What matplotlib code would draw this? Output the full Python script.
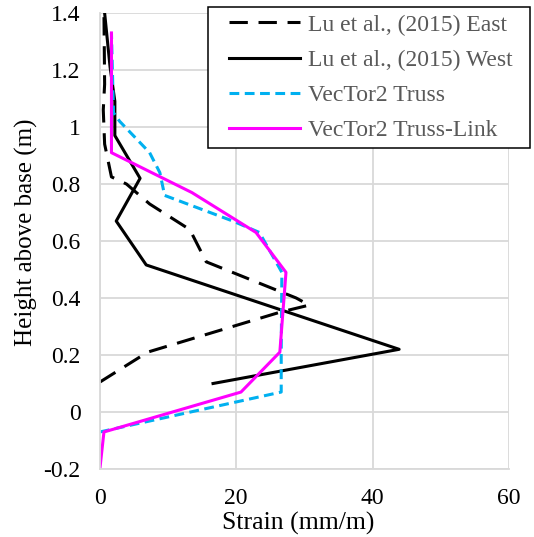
import matplotlib

matplotlib.use("Agg")
import matplotlib.pyplot as plt
import numpy as np
from matplotlib.ticker import FuncFormatter

# strain (mm/m) vs height above base (m)
east_strain = [0.0, 7.0, 26.4, 30.7, 28.8, 15.6, 13.2, 7.3, 3.9, 1.7, 0.7, 0.5, 0.7, 0.6]
east_height = [0.105, 0.21, 0.35, 0.375, 0.40, 0.527, 0.64, 0.73, 0.80, 0.825, 0.94, 1.06, 1.15, 1.40]

west_strain = [16.6, 43.9, 6.8, 2.4, 5.9, 2.2, 2.2, 1.5, 0.7]
west_height = [0.10, 0.22, 0.516, 0.67, 0.82, 0.97, 1.09, 1.21, 1.40]

truss_strain = [0.0, 26.6, 26.6, 26.7, 23.4, 19.5, 9.5, 8.8, 7.3, 2.9, 2.0, 1.7]
truss_height = [-0.07, 0.07, 0.21, 0.49, 0.63, 0.67, 0.76, 0.84, 0.91, 1.02, 1.05, 1.33]

link_strain = [0.0, 0.6, 20.7, 26.4, 27.3, 22.9, 13.5, 1.7, 1.7]
link_height = [-0.2, -0.07, 0.07, 0.21, 0.49, 0.63, 0.77, 0.91, 1.33]

x_ticks = [0, 20, 40, 60]
y_ticks = [-0.2, 0, 0.2, 0.4, 0.6, 0.8, 1, 1.2, 1.4]

plt.rcParams["font.family"] = ["Liberation Serif", "DejaVu Serif"]

fig = plt.figure(figsize=(5.34, 5.37), dpi=100)
ax = fig.add_axes([0.187, 0.1266, 0.766, 0.8492])

ax.plot(east_strain, east_height, color="black", lw=2.2, linestyle=(0, (6, 3.5)),
        label="Lu et al., (2015) East")
ax.plot(west_strain, west_height, color="black", lw=2.2, label="Lu et al., (2015) West")
ax.plot(truss_strain, truss_height, color="#00b0f0", lw=2.2, linestyle=(0, (3.2, 1.8)),
        label="VecTor2 Truss")
ax.plot(link_strain, link_height, color="#ff00ff", lw=2.2, label="VecTor2 Truss-Link")

ax.set_xlim(0, 60)
ax.set_ylim(-0.2, 1.4)
ax.set_xticks(x_ticks)
ax.set_yticks(y_ticks)
ax.yaxis.set_major_formatter(FuncFormatter(lambda v, p: f"{v:g}"))
ax.tick_params(length=0, labelsize=17)
ax.tick_params(axis="x", pad=14)
ax.tick_params(axis="y", pad=14)
ax.grid(True, color="#d9d9d9", lw=1.3)
for s in ["top", "right"]:
    ax.spines[s].set_visible(False)
for s in ["left", "bottom"]:
    ax.spines[s].set_color("#d9d9d9")
    ax.spines[s].set_linewidth(1.3)

ax.set_xlabel("Strain (mm/m)", fontsize=18.5)
ax.set_ylabel("Height above base (m)", fontsize=18)
ax.xaxis.set_label_coords(0.484, -0.095)
ax.yaxis.set_label_coords(-0.152, 0.52)

# legend frame spans x 208..530 px, y 7..147 px in the reference
leg = ax.legend(loc="upper left", bbox_to_anchor=(208 / 534, 530 / 537, 322 / 534, 0),
                bbox_transform=fig.transFigure, mode="expand", borderaxespad=0,
                fontsize=17, frameon=True, fancybox=False, handlelength=3.6,
                handletextpad=0.35, borderpad=0.3, labelspacing=0.58, framealpha=1)
leg.get_frame().set_edgecolor("black")
leg.get_frame().set_linewidth(1.1)
for t in leg.get_texts():
    t.set_color("#595959")
# handles start a bit inside the frame, as in the reference
for line in leg.get_lines():
    xd = np.asarray(line.get_xdata(), dtype=float)
    line.set_xdata(np.linspace(xd[0] + 10, xd[-1], len(xd)))

fig.savefig("out.png", dpi=100)
